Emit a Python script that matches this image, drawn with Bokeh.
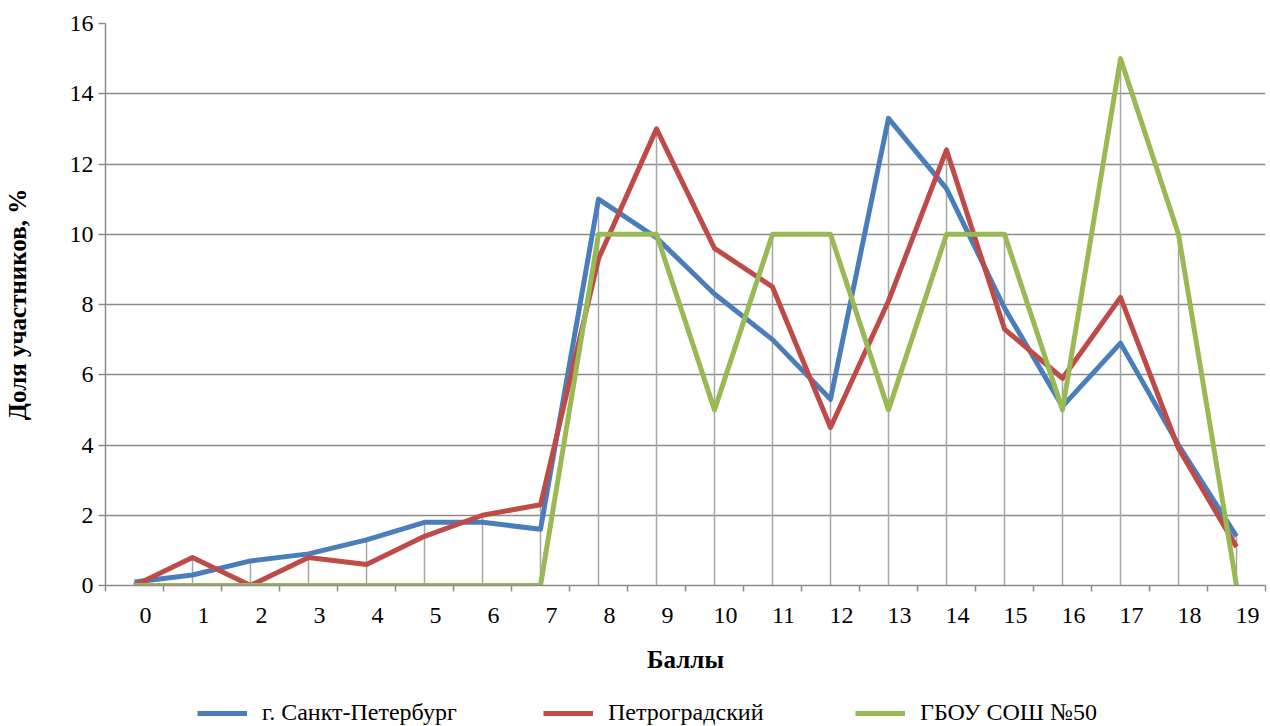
from bokeh.plotting import figure
from bokeh.layouts import column
from bokeh.models import FixedTicker, Range1d, Legend, LegendItem
from bokeh.embed import file_html
from bokeh.resources import INLINE

categories = [str(i) for i in range(20)]
spb = [0.1, 0.3, 0.7, 0.9, 1.3, 1.8, 1.8, 1.6, 11.0, 9.9, 8.3, 7.0, 5.3, 13.3, 11.3, 7.9, 5.1, 6.9, 4.0, 1.4]
petro = [0.0, 0.8, 0.0, 0.8, 0.6, 1.4, 2.0, 2.3, 9.3, 13.0, 9.6, 8.5, 4.5, 8.1, 12.4, 7.3, 5.9, 8.2, 3.9, 1.1]
school = [0, 0, 0, 0, 0, 0, 0, 0, 10, 10, 5, 10, 10, 5, 10, 10, 5, 15, 10, 0]
series_names = ["г. Санкт-Петербург", "Петроградский", "ГБОУ СОШ №50"]
y_ticks = [0, 2, 4, 6, 8, 10, 12, 14, 16]

FONT = "Liberation Serif"
LABEL_SHIFT = 0.19
colors = ["#4a7ebb", "#be4b48", "#98b954"]

xs = list(range(len(categories)))
drop_top = [max(a, b, c) for a, b, c in zip(spb, petro, school)]

p = figure(frame_width=1160, frame_height=562, output_backend="svg",
           toolbar_location=None, min_border_left=105, min_border_top=23,
           min_border_right=5, min_border_bottom=105,
           x_range=Range1d(-0.5, len(categories) - 0.5), y_range=Range1d(0, 16))
p.outline_line_color = None
p.background_fill_color = "white"
p.border_fill_color = "white"

p.xgrid.visible = False
p.ygrid.grid_line_color = "#8c8c8c"
p.ygrid.grid_line_width = 1.5
p.ygrid.ticker = FixedTicker(ticks=y_ticks)

# drop lines
p.segment(x0=xs, y0=[0] * len(xs), x1=xs, y1=drop_top, line_color="#a6a6a6", line_width=1.5)

all_series = [spb, petro, school]
for vals, c in zip(all_series, colors):
    p.line(xs, vals, line_color=c, line_width=5, line_join="round")

# x axis
xa = p.xaxis[0]
label_pos = [i + LABEL_SHIFT for i in xs]
xa.ticker = FixedTicker(ticks=label_pos, minor_ticks=[i - 0.5 for i in range(len(categories) + 1)])
xa.major_label_overrides = {pos: lab for pos, lab in zip(label_pos, categories)}
xa.major_tick_out = 0
xa.major_tick_in = 0
xa.minor_tick_out = 6
xa.minor_tick_in = 0
xa.minor_tick_line_color = "#8c8c8c"
xa.minor_tick_line_width = 1.5
xa.axis_line_color = "#8c8c8c"
xa.axis_line_width = 1.5
xa.major_label_text_font = FONT
xa.major_label_text_font_size = "24px"
xa.major_label_text_color = "black"
xa.major_label_standoff = 16
xa.axis_label = "Баллы"
xa.axis_label_text_font = FONT
xa.axis_label_text_font_size = "25px"
xa.axis_label_text_font_style = "bold"
xa.axis_label_text_color = "black"
xa.axis_label_standoff = 20

ya = p.yaxis[0]
ya.ticker = FixedTicker(ticks=y_ticks)
ya.major_tick_out = 7
ya.major_tick_in = 0
ya.minor_tick_out = 0
ya.minor_tick_in = 0
ya.major_tick_line_color = "#8c8c8c"
ya.major_tick_line_width = 1.5
ya.axis_line_color = "#8c8c8c"
ya.axis_line_width = 1.5
ya.major_label_text_font = FONT
ya.major_label_text_font_size = "24px"
ya.major_label_text_color = "black"
ya.major_label_standoff = 5
ya.axis_label = "Доля участников, %"
ya.axis_label_text_font = FONT
ya.axis_label_text_font_size = "25px"
ya.axis_label_text_font_style = "bold"
ya.axis_label_text_color = "black"
ya.axis_label_standoff = 36

# legend strip (its frame is aligned with the main frame by the column layout);
# the series are drawn out of view here, only their legend entries show
p2 = figure(width=1270, height=36, output_backend="svg", toolbar_location=None,
            min_border=0, x_range=Range1d(1000, 1001), y_range=Range1d(0, 1))
p2.axis.visible = False
p2.grid.visible = False
p2.outline_line_color = None
p2.border_fill_color = "white"

legend_x = [92, 438, 750]
for name, vals, c, lx in zip(series_names, all_series, colors, legend_x):
    r = p2.line(xs, vals, line_color=c, line_width=5)
    lg = Legend(items=[LegendItem(label=name, renderers=[r])],
                orientation="horizontal", location=(lx, 0))
    lg.label_text_font = FONT
    lg.label_text_font_size = "24px"
    lg.label_text_color = "black"
    lg.glyph_width = 50
    lg.glyph_height = 20
    lg.label_standoff = 15
    lg.padding = 0
    lg.margin = 0
    lg.border_line_color = None
    lg.background_fill_alpha = 0
    p2.add_layout(lg)

open("out.html", "w").write(file_html(column(p, p2, spacing=0), INLINE))
